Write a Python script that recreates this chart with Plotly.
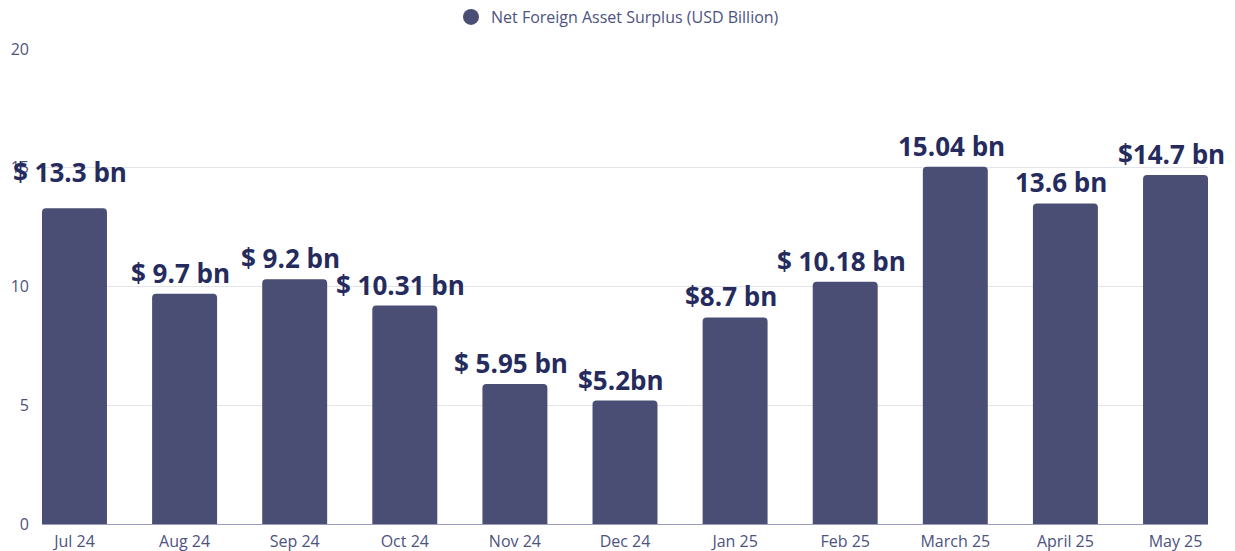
import plotly.graph_objects as go

# Monthly net foreign asset surplus, USD billion
months = ["Jul 24", "Aug 24", "Sep 24", "Oct 24", "Nov 24", "Dec 24",
          "Jan 25", "Feb 25", "March 25", "April 25", "May 25"]
surplus = [13.3, 9.7, 10.3, 9.2, 5.9, 5.2, 8.7, 10.2, 15.04, 13.5, 14.7]
labels = ["$ 13.3 bn", "$ 9.7 bn", "$ 9.2 bn", "$ 10.31 bn", "$ 5.95 bn",
          "$5.2bn", "$8.7 bn", "$ 10.18 bn", "15.04 bn", "13.6 bn", "$14.7 bn"]
y_ticks = [0, 5, 10, 15, 20]

BAR = "#4a4e74"
LABEL = "#262b5e"
MUTED = "#4d5380"
SERIES = "Net Foreign Asset Surplus (USD Billion)"

fig = go.Figure()

fig.add_trace(
    go.Bar(
        x=months,
        y=surplus,
        name=SERIES,
        marker=dict(color=BAR, line=dict(width=0)),
        hoverinfo="x+y",
        showlegend=False,
    )
)

# legend entry with a round swatch, like the original
fig.add_trace(
    go.Scatter(
        x=[None],
        y=[None],
        mode="markers",
        name=SERIES,
        marker=dict(symbol="circle", size=17, color=BAR),
        hoverinfo="skip",
    )
)

# Value labels above the bars
for i, (m, v, t) in enumerate(zip(months, surplus, labels)):
    fig.add_annotation(
        x=m,
        y=v,
        text=f"<b>{t}</b>",
        showarrow=False,
        yanchor="bottom",
        xshift=-4,
        yshift=16 if i == 0 else 1,
        font=dict(family="Open Sans", size=26, color=LABEL),
    )

fig.update_layout(
    template="plotly_white",
    width=1235,
    height=551,
    paper_bgcolor="#ffffff",
    plot_bgcolor="#ffffff",
    font=dict(family="Open Sans", color=MUTED, size=15),
    margin=dict(l=42, r=27, t=49, b=27, autoexpand=False),
    bargap=0.41,
    barcornerradius=4,
    showlegend=True,
    legend=dict(
        orientation="h",
        x=0.5,
        xanchor="center",
        xref="container",
        y=1.0,
        yanchor="top",
        yref="container",
        font=dict(size=16, color=MUTED),
        itemsizing="trace",
    ),
)
fig.update_xaxes(
    range=[-0.295, 10.295],
    showgrid=False,
    showline=True,
    linecolor="#9a9cc0",
    linewidth=1,
    ticks="",
    ticklabelstandoff=3,
    tickfont=dict(size=16, color=MUTED),
)
fig.update_yaxes(
    range=[0, 20],
    tickvals=y_ticks,
    showgrid=True,
    gridcolor="#e3e3ea",
    zeroline=False,
    ticks="",
    ticklabelstandoff=12,
    tickfont=dict(size=16, color=MUTED),
)

# page body has a default 8px margin; drop it so the figure sits at 0,0
fig.write_html(
    "out.html",
    config={"displayModeBar": False},
    post_script="document.body.style.margin='0';document.body.style.overflow='hidden';",
)
